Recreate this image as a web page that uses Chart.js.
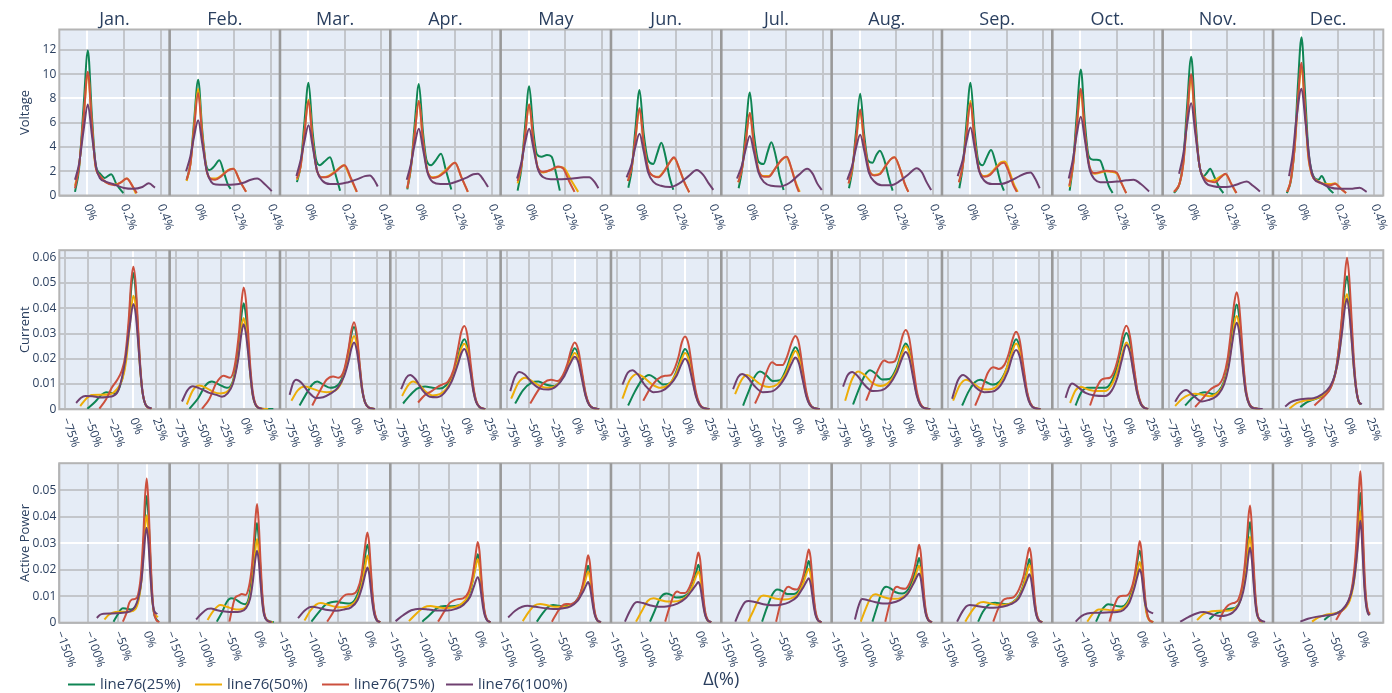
<!DOCTYPE html>
<html>
<head>
<meta charset="utf-8">
<script src="https://cdn.jsdelivr.net/npm/chart.js@4.4.1/dist/chart.umd.min.js"></script>
<style>
  html, body { margin: 0; padding: 0; background: #ffffff; width: 1392px; height: 693px; overflow: hidden; }
  .row { position: absolute; left: 0; width: 1392px; }
  canvas { display: block; }
</style>
</head>
<body>
<div class="row" style="top:0px;height:240px"><canvas id="rowVoltage" width="1392" height="240"></canvas></div>
<div class="row" style="top:240px;height:213px"><canvas id="rowCurrent" width="1392" height="213"></canvas></div>
<div class="row" style="top:453px;height:240px"><canvas id="rowPower" width="1392" height="240"></canvas></div>
<script>
// ---------- categories and labels ----------
const months = ['Jan.', 'Feb.', 'Mar.', 'Apr.', 'May', 'Jun.', 'Jul.', 'Aug.', 'Sep.', 'Oct.', 'Nov.', 'Dec.'];
const seriesNames = ['line76(25%)', 'line76(50%)', 'line76(75%)', 'line76(100%)'];

const voltageXTicks = [0, 0.2, 0.4];
const voltageXLabels = ['0%', '0.2%', '0.4%'];
const voltageYTicks = [0, 2, 4, 6, 8, 10, 12];
const voltageYLabels = ['0', '2', '4', '6', '8', '10', '12'];

const currentXTicks = [-75, -50, -25, 0, 25];
const currentXLabels = ['\u221275%', '\u221250%', '\u221225%', '0%', '25%'];
const currentYTicks = [0, 0.01, 0.02, 0.03, 0.04, 0.05, 0.06];
const currentYLabels = ['0', '0.01', '0.02', '0.03', '0.04', '0.05', '0.06'];

const powerXTicks = [-150, -100, -50, 0];
const powerXLabels = ['\u2212150%', '\u2212100%', '\u221250%', '0%'];
const powerYTicks = [0, 0.01, 0.02, 0.03, 0.04, 0.05];
const powerYLabels = ['0', '0.01', '0.02', '0.03', '0.04', '0.05'];

// ---------- density curves: [deviation %, density] per month ----------
const voltageG = [
  [[-0.067,0.3],[-0.045,2.2],[-0.02,7.4],[0.003,11.95],[0.025,6.6],[0.045,2.6],[0.07,1.8],[0.095,1.45],[0.13,1.75],[0.16,0.9],[0.196,0.2]],
  [[-0.06,1.25],[-0.04,2.6],[-0.02,6.0],[0.003,9.55],[0.025,5.4],[0.045,2.6],[0.065,2.1],[0.09,2.4],[0.118,2.9],[0.145,1.8],[0.165,0.9],[0.18,0.55]],
  [[-0.06,1.1],[-0.04,2.5],[-0.02,5.9],[0.003,9.3],[0.025,5.3],[0.045,2.9],[0.065,2.5],[0.09,2.8],[0.12,3.15],[0.145,2.0],[0.175,0.4]],
  [[-0.06,0.5],[-0.04,2.3],[-0.02,5.8],[0.003,9.2],[0.025,5.3],[0.045,2.9],[0.07,2.5],[0.095,2.9],[0.124,3.45],[0.15,2.1],[0.18,0.5]],
  [[-0.06,0.4],[-0.04,2.2],[-0.02,5.6],[0.003,9.0],[0.025,5.4],[0.045,3.4],[0.07,3.2],[0.1,3.35],[0.125,3.2],[0.15,1.8],[0.17,0.4]],
  [[-0.058,0.64],[-0.04,2.1],[-0.02,5.4],[0.003,8.7],[0.025,5.2],[0.05,2.9],[0.078,2.6],[0.1,3.5],[0.122,4.36],[0.145,3.2],[0.165,1.6],[0.187,0.47]],
  [[-0.058,0.6],[-0.04,2.1],[-0.02,5.3],[0.003,8.5],[0.025,5.1],[0.05,2.8],[0.078,2.6],[0.1,3.6],[0.12,4.4],[0.145,3.2],[0.165,1.6],[0.187,0.45]],
  [[-0.058,0.6],[-0.04,2.1],[-0.02,5.2],[0.003,8.4],[0.025,5.0],[0.045,2.9],[0.07,2.7],[0.09,3.3],[0.11,3.7],[0.135,2.9],[0.16,1.4],[0.18,0.4]],
  [[-0.058,0.6],[-0.04,2.3],[-0.02,5.8],[0.003,9.3],[0.025,5.4],[0.045,2.9],[0.07,2.5],[0.09,3.1],[0.115,3.75],[0.14,2.7],[0.165,1.2],[0.185,0.4]],
  [[-0.058,0.4],[-0.04,2.5],[-0.02,6.5],[0.003,10.4],[0.025,6.0],[0.045,3.3],[0.07,2.95],[0.09,2.95],[0.107,2.9],[0.13,2.0],[0.155,0.8],[0.176,0.2]],
  [[-0.09,0.2],[-0.06,1.0],[-0.04,2.9],[-0.02,7.2],[0.003,11.45],[0.025,6.6],[0.045,2.8],[0.07,1.6],[0.09,1.9],[0.106,2.2],[0.13,1.5],[0.155,0.7],[0.178,0.2]],
  [[-0.077,0.2],[-0.055,1.2],[-0.035,4.0],[-0.017,9.0],[0.003,13.05],[0.022,8.5],[0.04,3.8],[0.06,1.9],[0.077,1.4],[0.095,1.3],[0.113,1.6],[0.135,1.0],[0.155,0.5],[0.177,0.2]]
];
const voltageY = [
  [[-0.067,0.8],[-0.045,2.4],[-0.02,6.4],[0.003,10.0],[0.025,5.8],[0.045,2.4],[0.07,1.6],[0.1,1.1],[0.15,0.9],[0.185,1.1],[0.215,1.4],[0.245,0.8],[0.265,0.15]],
  [[-0.06,1.2],[-0.04,2.5],[-0.02,5.6],[0.003,8.8],[0.025,5.0],[0.05,2.0],[0.075,1.4],[0.1,1.4],[0.13,1.65],[0.165,2.1],[0.195,2.2],[0.23,1.2],[0.264,0.3]],
  [[-0.06,1.3],[-0.04,2.4],[-0.02,5.1],[0.003,7.9],[0.025,4.6],[0.05,2.0],[0.08,1.5],[0.11,1.6],[0.15,2.0],[0.195,2.5],[0.23,1.5],[0.265,0.3]],
  [[-0.06,0.6],[-0.04,2.4],[-0.02,5.1],[0.003,7.8],[0.025,4.6],[0.05,2.0],[0.08,1.5],[0.11,1.6],[0.15,2.1],[0.2,2.7],[0.235,1.5],[0.27,0.3]],
  [[-0.06,1.0],[-0.04,2.4],[-0.02,4.9],[0.003,7.5],[0.025,4.6],[0.05,2.3],[0.08,1.9],[0.12,2.1],[0.16,2.35],[0.19,2.3],[0.23,1.3],[0.27,0.3]],
  [[-0.06,1.2],[-0.04,2.3],[-0.02,4.6],[0.003,7.1],[0.025,4.4],[0.05,2.2],[0.08,1.6],[0.106,1.55],[0.14,2.1],[0.17,2.8],[0.191,3.1],[0.22,2.2],[0.25,1.0],[0.274,0.27]],
  [[-0.06,1.1],[-0.04,2.2],[-0.02,4.4],[0.003,6.8],[0.025,4.2],[0.05,2.1],[0.08,1.6],[0.106,1.6],[0.14,2.2],[0.175,2.9],[0.2,3.2],[0.23,2.2],[0.255,1.0],[0.275,0.3]],
  [[-0.06,1.0],[-0.04,2.2],[-0.02,4.5],[0.003,6.9],[0.025,4.3],[0.05,2.2],[0.08,1.7],[0.11,1.8],[0.14,2.4],[0.17,3.0],[0.19,3.15],[0.22,2.2],[0.245,1.0],[0.265,0.3]],
  [[-0.06,1.1],[-0.04,2.4],[-0.02,5.0],[0.003,7.8],[0.025,4.6],[0.05,2.1],[0.08,1.6],[0.11,1.8],[0.14,2.3],[0.17,2.75],[0.19,2.8],[0.215,2.0],[0.24,0.9],[0.26,0.3]],
  [[-0.06,0.7],[-0.04,2.4],[-0.02,5.5],[0.003,8.5],[0.025,5.0],[0.05,2.4],[0.08,1.8],[0.11,1.9],[0.14,2.0],[0.17,1.95],[0.2,1.8],[0.225,1.0],[0.25,0.2]],
  [[-0.09,0.3],[-0.06,1.0],[-0.04,2.6],[-0.02,6.1],[0.003,9.6],[0.025,5.6],[0.05,2.3],[0.08,1.4],[0.11,1.2],[0.135,1.3],[0.165,1.6],[0.19,1.75],[0.22,1.0],[0.248,0.2]],
  [[-0.075,0.3],[-0.055,1.3],[-0.035,3.8],[-0.017,7.6],[0.003,10.6],[0.022,7.0],[0.04,3.2],[0.06,1.7],[0.086,1.25],[0.12,1.0],[0.16,0.95],[0.186,1.0],[0.215,0.6],[0.246,0.2]]
];
const voltageR = [
  [[-0.067,0.6],[-0.045,2.4],[-0.02,6.5],[0.003,10.2],[0.025,5.9],[0.045,2.4],[0.07,1.6],[0.1,1.1],[0.15,0.85],[0.185,1.1],[0.215,1.4],[0.245,0.8],[0.27,0.2]],
  [[-0.06,1.3],[-0.04,2.5],[-0.02,5.4],[0.003,8.45],[0.025,4.9],[0.05,2.0],[0.075,1.35],[0.095,1.3],[0.13,1.6],[0.165,2.05],[0.195,2.2],[0.23,1.2],[0.264,0.3]],
  [[-0.06,1.4],[-0.04,2.4],[-0.02,5.0],[0.003,7.8],[0.025,4.5],[0.05,2.0],[0.08,1.5],[0.11,1.55],[0.15,1.95],[0.2,2.5],[0.235,1.4],[0.267,0.3]],
  [[-0.06,0.6],[-0.04,2.4],[-0.02,5.0],[0.003,7.8],[0.025,4.6],[0.05,2.0],[0.08,1.45],[0.11,1.55],[0.15,2.0],[0.2,2.7],[0.235,1.5],[0.27,0.3]],
  [[-0.06,1.2],[-0.04,2.4],[-0.02,4.9],[0.003,7.5],[0.025,4.6],[0.05,2.3],[0.08,1.95],[0.12,2.1],[0.16,2.4],[0.19,2.2],[0.22,1.2],[0.25,0.3]],
  [[-0.06,1.2],[-0.04,2.3],[-0.02,4.7],[0.003,7.2],[0.025,4.4],[0.05,2.2],[0.08,1.6],[0.106,1.5],[0.14,2.05],[0.17,2.8],[0.191,3.15],[0.22,2.2],[0.25,1.0],[0.274,0.27]],
  [[-0.06,1.1],[-0.04,2.2],[-0.02,4.4],[0.003,6.8],[0.025,4.2],[0.05,2.1],[0.08,1.55],[0.106,1.55],[0.14,2.2],[0.175,2.95],[0.205,3.2],[0.23,2.2],[0.255,0.9],[0.27,0.3]],
  [[-0.06,1.0],[-0.04,2.3],[-0.02,4.6],[0.003,7.1],[0.025,4.4],[0.05,2.2],[0.08,1.65],[0.11,1.75],[0.14,2.4],[0.17,3.0],[0.19,3.15],[0.22,2.2],[0.245,1.0],[0.265,0.3]],
  [[-0.06,1.1],[-0.04,2.4],[-0.02,4.9],[0.003,7.6],[0.025,4.5],[0.05,2.1],[0.08,1.55],[0.11,1.7],[0.14,2.2],[0.17,2.65],[0.185,2.7],[0.21,2.0],[0.235,0.9],[0.255,0.3]],
  [[-0.06,0.8],[-0.04,2.5],[-0.02,5.7],[0.003,8.8],[0.025,5.2],[0.05,2.4],[0.08,1.85],[0.11,1.95],[0.14,2.05],[0.17,2.0],[0.198,1.9],[0.225,1.0],[0.25,0.2]],
  [[-0.09,0.3],[-0.06,1.0],[-0.04,2.6],[-0.02,6.3],[0.003,10.0],[0.025,5.8],[0.05,2.3],[0.08,1.35],[0.11,1.15],[0.133,1.1],[0.165,1.5],[0.19,1.8],[0.22,1.0],[0.25,0.2]],
  [[-0.075,0.3],[-0.055,1.3],[-0.035,3.9],[-0.017,7.8],[0.003,10.95],[0.022,7.2],[0.04,3.3],[0.06,1.7],[0.086,1.2],[0.12,0.95],[0.16,0.85],[0.186,0.97],[0.215,0.6],[0.246,0.2]]
];
const voltageP = [
  [[-0.067,1.3],[-0.045,2.6],[-0.02,5.4],[0.003,7.5],[0.025,5.0],[0.05,2.2],[0.07,1.4],[0.1,1.15],[0.14,0.95],[0.2,0.62],[0.25,0.55],[0.3,0.7],[0.335,1.0],[0.369,0.65]],
  [[-0.063,2.0],[-0.04,3.2],[-0.02,4.8],[0.003,6.2],[0.025,4.3],[0.05,2.0],[0.075,1.1],[0.1,0.9],[0.15,0.88],[0.2,0.9],[0.25,1.05],[0.29,1.3],[0.325,1.4],[0.365,0.95],[0.404,0.36]],
  [[-0.063,1.6],[-0.04,2.9],[-0.02,4.4],[0.003,5.8],[0.025,4.1],[0.05,2.0],[0.08,1.2],[0.12,0.95],[0.17,0.95],[0.22,1.1],[0.27,1.35],[0.31,1.6],[0.338,1.65],[0.36,1.3],[0.38,0.75]],
  [[-0.063,1.3],[-0.04,2.6],[-0.02,4.2],[0.003,5.5],[0.025,3.9],[0.05,1.9],[0.08,1.1],[0.12,0.95],[0.16,0.95],[0.21,1.15],[0.26,1.45],[0.3,1.75],[0.325,1.8],[0.355,1.3],[0.38,0.7]],
  [[-0.063,1.4],[-0.04,2.7],[-0.02,4.3],[0.003,5.5],[0.025,4.0],[0.05,2.2],[0.08,1.5],[0.12,1.35],[0.18,1.35],[0.24,1.4],[0.3,1.5],[0.33,1.5],[0.36,1.1],[0.38,0.6]],
  [[-0.067,1.5],[-0.04,2.6],[-0.02,4.0],[0.003,5.1],[0.025,3.7],[0.05,1.9],[0.08,1.1],[0.12,0.8],[0.17,0.7],[0.22,1.0],[0.27,1.6],[0.315,2.1],[0.35,1.7],[0.38,1.0],[0.405,0.47]],
  [[-0.067,1.4],[-0.04,2.5],[-0.02,3.8],[0.003,4.9],[0.025,3.6],[0.05,1.9],[0.08,1.1],[0.12,0.8],[0.17,0.75],[0.22,1.05],[0.27,1.7],[0.315,2.2],[0.345,1.8],[0.37,1.0],[0.395,0.45]],
  [[-0.067,1.3],[-0.04,2.5],[-0.02,3.9],[0.003,5.0],[0.025,3.7],[0.05,1.9],[0.08,1.15],[0.12,0.85],[0.17,0.85],[0.22,1.2],[0.27,1.8],[0.31,2.25],[0.34,1.9],[0.365,1.1],[0.39,0.45]],
  [[-0.067,1.6],[-0.04,2.9],[-0.02,4.4],[0.003,5.6],[0.025,4.0],[0.05,2.0],[0.08,1.2],[0.12,0.95],[0.17,0.95],[0.22,1.2],[0.27,1.6],[0.31,1.85],[0.33,1.9],[0.355,1.4],[0.38,0.6]],
  [[-0.063,1.4],[-0.04,3.0],[-0.02,5.0],[0.003,6.5],[0.025,4.6],[0.05,2.2],[0.08,1.3],[0.108,1.1],[0.15,1.1],[0.2,1.15],[0.25,1.25],[0.29,1.3],[0.33,0.95],[0.375,0.33]],
  [[-0.063,1.8],[-0.04,3.4],[-0.02,5.8],[0.003,7.6],[0.025,5.2],[0.05,2.3],[0.08,1.1],[0.124,0.77],[0.17,0.7],[0.21,0.72],[0.26,0.95],[0.306,1.16],[0.34,0.8],[0.378,0.33]],
  [[-0.065,1.6],[-0.045,3.4],[-0.025,6.3],[0.003,8.8],[0.025,6.0],[0.05,2.6],[0.075,1.3],[0.1,1.1],[0.15,0.7],[0.213,0.55],[0.27,0.55],[0.32,0.64],[0.358,0.3]]
];

const currentG = [
  [[-50.7,0.0002],[-42,0.003],[-35,0.0058],[-30,0.0068],[-24,0.0065],[-20,0.0062],[-15,0.009],[-10,0.016],[-5,0.033],[-2.5,0.047],[0,0.054],[2.5,0.047],[5,0.032],[7.5,0.017],[10,0.007],[14,0.0015],[20,0.0002]],
  [[-59.8,0.0002],[-50,0.0045],[-42,0.0095],[-35,0.011],[-27,0.0098],[-18.6,0.0085],[-12,0.011],[-6,0.024],[-2.5,0.037],[0,0.042],[2.5,0.037],[5,0.026],[7.5,0.014],[10,0.006],[14,0.0013],[20,0.0002],[32.7,0.0001]],
  [[-60,0.0015],[-52,0.0065],[-46,0.0098],[-40.6,0.011],[-34,0.0098],[-26,0.0085],[-18,0.0095],[-11,0.0145],[-6,0.023],[-3,0.0295],[0,0.0326],[3,0.0285],[6,0.018],[9,0.008],[12,0.003],[16,0.0008],[23,0.0001]],
  [[-67.5,0.0023],[-60,0.0055],[-52,0.0082],[-43.3,0.009],[-35,0.0085],[-27,0.0082],[-20,0.0095],[-13,0.0135],[-7,0.0205],[-3.5,0.0255],[0,0.0277],[3.5,0.0245],[7,0.016],[10,0.008],[13,0.0032],[17,0.0008],[23,0.0001]],
  [[-65.6,0.0023],[-57,0.0075],[-48,0.0105],[-40,0.011],[-32,0.0098],[-24,0.0092],[-16,0.011],[-9,0.016],[-4,0.0215],[0,0.0242],[4,0.0215],[8,0.0138],[12,0.006],[16,0.0019],[21,0.0004],[27,0.0001]],
  [[-62.7,0.0015],[-55,0.0072],[-47,0.0118],[-39.5,0.0136],[-32,0.012],[-24,0.0098],[-16,0.0105],[-9,0.0155],[-4,0.021],[0,0.0239],[4,0.0212],[8,0.0135],[12,0.006],[16,0.0019],[21,0.0004],[27,0.0001]],
  [[-57.6,0.0015],[-51,0.0075],[-45,0.0128],[-38.9,0.015],[-32,0.0135],[-25,0.0112],[-17,0.0115],[-10,0.016],[-4,0.022],[0,0.0246],[4,0.022],[8,0.014],[12,0.0062],[16,0.002],[21,0.0004],[27,0.0001]],
  [[-58,0.0019],[-51,0.0085],[-45,0.0135],[-39.2,0.0155],[-33,0.014],[-26,0.0118],[-18,0.012],[-10,0.0165],[-4,0.0232],[0,0.0261],[4,0.0232],[8,0.0148],[12,0.0065],[16,0.002],[21,0.0004],[27,0.0001]],
  [[-59.4,0.0015],[-52,0.0072],[-45,0.0108],[-39.5,0.0117],[-33,0.0108],[-26,0.0098],[-18,0.011],[-10,0.0165],[-4,0.0245],[0,0.0277],[4,0.0246],[8,0.0157],[12,0.0068],[16,0.0021],[21,0.0004],[27,0.0001]],
  [[-56,0.0015],[-50,0.0065],[-43,0.0085],[-35,0.0085],[-28,0.0085],[-23.5,0.0085],[-17,0.0105],[-11,0.016],[-5,0.025],[0,0.0302],[4,0.0265],[8,0.0165],[12,0.0072],[16,0.0022],[20,0.0006],[24,0.0001]],
  [[-56.8,0.0015],[-48,0.0048],[-40,0.0064],[-34.8,0.0068],[-29,0.0063],[-25.6,0.006],[-20,0.0072],[-14,0.011],[-9,0.019],[-5,0.03],[-2.5,0.038],[0,0.0415],[2.5,0.0375],[5,0.0275],[7.5,0.016],[10,0.0075],[14,0.002],[20,0.0004],[26,0.0001]],
  [[-51.6,0.0009],[-44,0.0028],[-36,0.004],[-28,0.005],[-22,0.0065],[-17,0.0095],[-12,0.016],[-8,0.027],[-5,0.038],[-2.5,0.048],[0,0.0527],[2.5,0.046],[5,0.032],[7.5,0.018],[10,0.0085],[12.5,0.0035],[15,0.0018]]
];
const currentY = [
  [[-58.5,0.0013],[-52,0.0042],[-45.8,0.0057],[-36,0.0058],[-25.7,0.006],[-18,0.008],[-12,0.012],[-8,0.019],[-4,0.033],[0,0.045],[2.5,0.041],[5,0.029],[7.5,0.016],[10,0.007],[14,0.0015],[20,0.0002]],
  [[-62.7,0.0019],[-56,0.0075],[-49,0.0094],[-40,0.0082],[-33,0.0068],[-26,0.0063],[-19,0.0068],[-12,0.0105],[-6,0.021],[-2.5,0.032],[0,0.0362],[2.5,0.032],[5,0.023],[7.5,0.013],[10,0.0055],[14,0.0012],[20,0.0002],[27,0.0001]],
  [[-69,0.0034],[-62,0.0075],[-54,0.009],[-46,0.0082],[-38,0.0072],[-30,0.0068],[-22,0.0072],[-14,0.0105],[-7,0.019],[-3,0.026],[0,0.029],[3,0.0255],[6,0.0165],[9,0.0075],[12,0.0028],[16,0.0007],[23,0.0001]],
  [[-68.6,0.0053],[-62,0.0095],[-56.5,0.011],[-50,0.0098],[-42,0.0068],[-35,0.0055],[-27,0.006],[-20,0.008],[-13,0.0125],[-7,0.0195],[-3.5,0.024],[0,0.026],[3.5,0.023],[7,0.015],[10,0.0075],[13,0.003],[17,0.0008],[23,0.0001]],
  [[-70,0.0042],[-62,0.0105],[-54.6,0.0125],[-47,0.0112],[-38,0.0092],[-29,0.0085],[-20,0.0095],[-12,0.0135],[-5,0.019],[0,0.0223],[4,0.0198],[8,0.0128],[12,0.0056],[16,0.0018],[21,0.0004],[27,0.0001]],
  [[-69,0.0042],[-61,0.0115],[-52.7,0.014],[-45,0.0125],[-36,0.0098],[-27,0.0085],[-18,0.0098],[-10,0.014],[-4,0.0196],[0,0.0223],[4,0.0198],[8,0.0126],[12,0.0056],[16,0.0018],[21,0.0004],[27,0.0001]],
  [[-66.4,0.006],[-59,0.0118],[-53.2,0.0136],[-46,0.012],[-38,0.0098],[-29,0.0088],[-20,0.0098],[-11,0.014],[-4,0.0205],[0,0.0231],[4,0.0205],[8,0.013],[12,0.0058],[16,0.0018],[21,0.0004],[27,0.0001]],
  [[-66.7,0.0034],[-59,0.012],[-52.4,0.015],[-45,0.0135],[-37,0.0105],[-28,0.0092],[-19,0.0105],[-10,0.0155],[-4,0.0222],[0,0.025],[4,0.0222],[8,0.0142],[12,0.0062],[16,0.002],[21,0.0004],[27,0.0001]],
  [[-69.3,0.0034],[-62,0.0095],[-55,0.0117],[-48,0.0105],[-40,0.0085],[-31,0.0078],[-22,0.0088],[-13,0.0135],[-5,0.022],[0,0.0261],[4,0.0232],[8,0.0148],[12,0.0064],[16,0.002],[21,0.0004],[27,0.0001]],
  [[-62,0.0025],[-56,0.0075],[-50,0.0088],[-42,0.0078],[-33,0.0072],[-23.5,0.0072],[-17,0.0092],[-11,0.014],[-5,0.0215],[0,0.0265],[4,0.0233],[8,0.0146],[12,0.0064],[16,0.002],[20,0.0005],[24,0.0001]],
  [[-67.8,0.0013],[-60,0.0042],[-52,0.0058],[-45.8,0.0062],[-38,0.0058],[-30,0.0052],[-22,0.0062],[-15,0.0095],[-9,0.0175],[-5,0.027],[-2.5,0.034],[0,0.0369],[2.5,0.0335],[5,0.0245],[7.5,0.0145],[10,0.0068],[14,0.0018],[20,0.0003],[26,0.0001]],
  [[-63.4,0.0003],[-55,0.0025],[-46,0.0035],[-37,0.004],[-28,0.0052],[-20,0.0078],[-14,0.0125],[-9,0.021],[-5,0.033],[-2.5,0.042],[0,0.0457],[2.5,0.04],[5,0.0285],[7.5,0.0165],[10,0.008],[12.5,0.0035],[15,0.002]]
];
const currentR = [
  [[-37.4,0.0003],[-30,0.004],[-23.8,0.0085],[-18,0.0115],[-13,0.015],[-9,0.021],[-5,0.036],[-2.5,0.05],[0,0.0564],[2.5,0.05],[5,0.034],[7.5,0.018],[10,0.0075],[14,0.0015],[20,0.0002]],
  [[-46,0.0002],[-38,0.004],[-30,0.0105],[-22.3,0.0133],[-15,0.0125],[-10,0.017],[-5,0.031],[-2.5,0.042],[0,0.0482],[2.5,0.043],[5,0.03],[7.5,0.016],[10,0.007],[14,0.0015],[21.7,0.0001]],
  [[-46,0.0015],[-38,0.007],[-30,0.0118],[-23,0.013],[-17,0.0125],[-11,0.0155],[-6,0.024],[-3,0.031],[0,0.0345],[3,0.03],[6,0.019],[9,0.0085],[12,0.003],[16,0.0008],[23,0.0001]],
  [[-51,0.0027],[-44,0.0055],[-36,0.0072],[-29,0.009],[-24.5,0.0098],[-18,0.011],[-12,0.0155],[-7,0.024],[-3.5,0.0305],[0,0.033],[3.5,0.029],[7,0.018],[10,0.009],[13,0.0035],[17,0.0009],[23,0.0001]],
  [[-49,0.0023],[-42,0.0065],[-34,0.0105],[-26,0.0117],[-19,0.0112],[-13,0.0135],[-8,0.018],[-4,0.0235],[0,0.0265],[4,0.0235],[8,0.015],[12,0.0065],[16,0.002],[21,0.0004],[27,0.0001]],
  [[-46,0.0034],[-38,0.0085],[-30,0.012],[-22,0.0133],[-16,0.0135],[-11,0.0165],[-7,0.021],[-3.5,0.0265],[0,0.0288],[4,0.0255],[8,0.016],[12,0.007],[16,0.0022],[21,0.0004],[27,0.0001]],
  [[-44.4,0.0023],[-38,0.0075],[-32,0.0145],[-25.7,0.0186],[-20,0.0175],[-14,0.0175],[-9,0.021],[-4,0.0265],[0,0.029],[4,0.026],[8,0.0165],[12,0.0072],[16,0.0022],[21,0.0004],[27,0.0001]],
  [[-43.6,0.0034],[-37,0.0095],[-30,0.016],[-23.8,0.0193],[-18,0.0185],[-12,0.019],[-7,0.024],[-3.5,0.029],[0,0.0314],[4,0.028],[8,0.018],[12,0.0078],[16,0.0024],[21,0.0004],[27,0.0001]],
  [[-45,0.0015],[-38,0.0075],[-31,0.0145],[-25.2,0.0167],[-19,0.016],[-13,0.0175],[-8,0.022],[-4,0.0275],[0,0.0307],[4,0.0275],[8,0.0175],[12,0.0075],[16,0.0023],[21,0.0004],[27,0.0001]],
  [[-40,0.0015],[-34,0.0075],[-28,0.0115],[-23.5,0.0122],[-18,0.0125],[-13,0.0155],[-8,0.022],[-4,0.0295],[0,0.0331],[4,0.029],[8,0.018],[12,0.0078],[16,0.0024],[20,0.0006],[24,0.0001]],
  [[-45.8,0.0009],[-38,0.004],[-30,0.0075],[-24,0.009],[-20,0.0097],[-15,0.0125],[-10,0.02],[-5,0.035],[-2.5,0.0425],[0,0.0463],[2.5,0.042],[5,0.031],[7.5,0.018],[10,0.0085],[14,0.0022],[20,0.0004],[25.8,0.0001]],
  [[-35.9,0.0015],[-30,0.0035],[-24,0.0055],[-18,0.0085],[-13,0.014],[-9,0.024],[-6,0.035],[-3,0.05],[0,0.06],[2.5,0.052],[5,0.036],[7.5,0.02],[10,0.009],[12.5,0.0035],[14.4,0.002]]
];
const currentP = [
  [[-63,0.0025],[-58,0.0045],[-53,0.0053],[-45,0.0052],[-36.7,0.0047],[-28,0.0049],[-22,0.0053],[-16,0.008],[-9.1,0.019],[-4,0.033],[0,0.0417],[2.5,0.038],[5,0.028],[7.5,0.016],[10,0.007],[14,0.0015],[20,0.0004]],
  [[-68,0.0031],[-62,0.0075],[-56,0.0091],[-48,0.0082],[-38,0.0065],[-30,0.0057],[-24,0.005],[-18,0.0062],[-12,0.01],[-6,0.02],[-2.5,0.03],[0,0.0337],[2.5,0.03],[5,0.022],[7.5,0.013],[10,0.0055],[14,0.0012],[20,0.0002]],
  [[-71,0.0057],[-67,0.0105],[-63.7,0.0117],[-58,0.0105],[-50,0.0068],[-41.7,0.0045],[-34,0.0048],[-26,0.0062],[-18,0.0085],[-11,0.013],[-6,0.019],[-3,0.024],[0,0.0265],[3,0.0235],[6,0.016],[9,0.0075],[12,0.0028],[16,0.0007],[23,0.0001]],
  [[-69.7,0.008],[-64,0.0125],[-59.8,0.0136],[-54,0.012],[-46,0.0075],[-38,0.005],[-30,0.0048],[-22,0.0065],[-14,0.011],[-7,0.018],[-3.5,0.022],[0,0.0239],[3.5,0.021],[7,0.014],[10,0.007],[13,0.0028],[17,0.0008],[23,0.0001]],
  [[-71,0.0072],[-66,0.0128],[-61,0.0148],[-55,0.0138],[-47,0.0105],[-38,0.0082],[-29,0.0078],[-20,0.0092],[-12,0.0128],[-5,0.018],[0,0.0208],[4,0.0186],[8,0.012],[12,0.0053],[16,0.0017],[21,0.0004],[27,0.0001]],
  [[-69,0.0098],[-63,0.0145],[-58,0.0155],[-52,0.0138],[-44,0.0095],[-35,0.0068],[-26,0.0072],[-17,0.0095],[-9,0.0135],[-4,0.0178],[0,0.02],[4,0.0178],[8,0.0115],[12,0.0052],[16,0.0017],[21,0.0004],[27,0.0001]],
  [[-68.6,0.008],[-63,0.0128],[-58.7,0.014],[-53,0.0128],[-45,0.0092],[-36,0.0068],[-27,0.007],[-18,0.0092],[-10,0.0135],[-4,0.0182],[0,0.0205],[4,0.0182],[8,0.0118],[12,0.0052],[16,0.0017],[21,0.0004],[27,0.0001]],
  [[-69,0.009],[-64,0.0135],[-59,0.0148],[-53,0.0132],[-45,0.0095],[-36,0.0072],[-27,0.0075],[-18,0.0098],[-10,0.0145],[-4,0.0202],[0,0.0227],[4,0.0202],[8,0.013],[12,0.0057],[16,0.0018],[21,0.0004],[27,0.0001]],
  [[-70.4,0.0042],[-64,0.0115],[-58.3,0.0136],[-52,0.012],[-44,0.0085],[-35,0.0068],[-26,0.007],[-17,0.0095],[-9,0.015],[-4,0.021],[0,0.0235],[4,0.021],[8,0.0134],[12,0.0058],[16,0.0018],[21,0.0004],[27,0.0001]],
  [[-67,0.0045],[-63,0.0088],[-59.8,0.0102],[-54,0.009],[-45,0.0065],[-35,0.0055],[-23.5,0.0053],[-16,0.0075],[-10,0.0125],[-5,0.0195],[0,0.0255],[4,0.0225],[8,0.0142],[12,0.0062],[16,0.002],[20,0.0005],[24,0.0001]],
  [[-67.8,0.003],[-62,0.0062],[-55.7,0.0076],[-48,0.0055],[-38.4,0.0031],[-30,0.0038],[-25.6,0.0044],[-20,0.006],[-14,0.0098],[-9,0.0165],[-5,0.026],[-2.5,0.0315],[0,0.0343],[2.5,0.0312],[5,0.023],[7.5,0.0138],[10,0.0066],[14,0.0018],[20,0.0003],[28.7,0.0001]],
  [[-68.2,0.0011],[-62,0.0028],[-55.3,0.0037],[-46,0.0042],[-37,0.0044],[-28,0.0058],[-18.6,0.0091],[-13,0.014],[-9,0.021],[-5,0.032],[-2.5,0.04],[0,0.0438],[2.5,0.0385],[5,0.028],[7.5,0.0165],[10,0.008],[13,0.003],[16.3,0.002]]
];

const powerG = [
  [[-57,0.0004],[-50,0.003],[-45,0.0048],[-41,0.0055],[-35,0.0053],[-28,0.005],[-22,0.0055],[-16,0.0075],[-11,0.013],[-6,0.027],[-3,0.041],[0,0.0478],[3,0.04],[6,0.025],[9,0.0115],[12,0.0042],[16,0.0015],[20,0.0004]],
  [[-69,0.0004],[-60,0.004],[-52,0.0078],[-44.5,0.0092],[-37,0.0088],[-28,0.0075],[-20.5,0.007],[-14,0.0095],[-9,0.017],[-5,0.027],[-2.5,0.034],[0,0.0376],[3,0.031],[6,0.0195],[9,0.0095],[12,0.0037],[17,0.001],[29,0.0002]],
  [[-96,0.0004],[-85,0.0035],[-72,0.0068],[-60,0.0078],[-53,0.008],[-44,0.0075],[-33,0.0072],[-22,0.0085],[-13,0.0135],[-6,0.022],[0,0.0294],[3,0.026],[6,0.0175],[9,0.0092],[12,0.004],[16,0.0011],[22,0.0002]],
  [[-95,0.0004],[-82,0.003],[-70,0.0055],[-56,0.0063],[-45,0.0062],[-34,0.0065],[-22,0.0078],[-12,0.0125],[-5,0.02],[0,0.0258],[3,0.0228],[6,0.0155],[9,0.0082],[12,0.0035],[16,0.001],[22,0.0002]],
  [[-88,0.0004],[-78,0.0035],[-68,0.006],[-60,0.0067],[-50,0.0064],[-40,0.0062],[-28,0.0068],[-17,0.0092],[-8,0.0145],[-3,0.0188],[0,0.0215],[3,0.0192],[6,0.0132],[9,0.007],[12,0.003],[16,0.0009],[22,0.0002]],
  [[-83,0.0004],[-75,0.0045],[-65,0.0095],[-55,0.011],[-47,0.0105],[-38,0.0095],[-27,0.0098],[-16,0.0115],[-8,0.0158],[-3,0.0198],[0,0.0219],[3,0.0195],[6,0.0135],[9,0.0072],[12,0.0031],[16,0.0009],[22,0.0002]],
  [[-80,0.0004],[-72,0.0055],[-62,0.0108],[-54,0.0125],[-46,0.012],[-37,0.0108],[-26,0.0108],[-16,0.0125],[-8,0.0168],[-3,0.021],[0,0.0233],[3,0.0208],[6,0.0143],[9,0.0076],[12,0.0033],[16,0.001],[22,0.0002]],
  [[-80,0.0004],[-72,0.006],[-63,0.0122],[-56.5,0.0136],[-49,0.013],[-40,0.0115],[-29,0.011],[-18,0.0128],[-9,0.0175],[-3,0.022],[0,0.0244],[3,0.0218],[6,0.015],[9,0.008],[12,0.0034],[16,0.001],[22,0.0002]],
  [[-88,0.0004],[-80,0.004],[-70,0.0068],[-59,0.0075],[-49,0.0072],[-39,0.007],[-28,0.0078],[-17,0.0105],[-8,0.016],[-3,0.0212],[0,0.024],[3,0.0214],[6,0.0148],[9,0.0079],[12,0.0034],[16,0.001],[22,0.0002]],
  [[-75,0.0004],[-66,0.0045],[-58,0.0066],[-54,0.007],[-45,0.0066],[-37,0.0062],[-30.8,0.0061],[-22,0.0075],[-14,0.0115],[-7,0.019],[-3,0.0245],[0,0.0272],[3,0.024],[6,0.0165],[9,0.0088],[12,0.0038],[16,0.0011],[23,0.0002]],
  [[-69.7,0.0013],[-60,0.0032],[-50,0.0042],[-40,0.005],[-31,0.0054],[-24,0.0058],[-17,0.0085],[-11,0.015],[-6,0.025],[-3,0.0335],[0,0.038],[3,0.0315],[6,0.0195],[9,0.0095],[12,0.0037],[16,0.001],[22,0.0003]],
  [[-62,0.001],[-52,0.0028],[-42,0.0035],[-33,0.0045],[-25,0.0062],[-18,0.0092],[-12,0.0155],[-7,0.026],[-4,0.037],[-2,0.0445],[0,0.049],[2,0.043],[4.5,0.029],[7,0.016],[10,0.0075],[13,0.004],[16,0.003]]
];
const powerY = [
  [[-72.6,0.0012],[-65,0.003],[-54,0.004],[-42,0.0041],[-28.6,0.0042],[-20,0.005],[-14,0.0085],[-9,0.016],[-5,0.028],[-2.5,0.037],[0,0.0406],[3,0.034],[6,0.021],[9,0.0098],[12,0.0045],[19,0.002]],
  [[-85,0.001],[-75,0.0045],[-63,0.0067],[-52,0.006],[-40.6,0.0052],[-30,0.005],[-20,0.0058],[-13,0.009],[-8,0.016],[-4,0.025],[0,0.0316],[3,0.0265],[6,0.0168],[9,0.0082],[12,0.0033],[17,0.0009],[27,0.0002]],
  [[-108,0.0008],[-98,0.0045],[-88,0.0068],[-80,0.0074],[-68,0.0068],[-55,0.006],[-42,0.0058],[-30,0.0065],[-18,0.009],[-9,0.015],[-4,0.021],[0,0.0254],[3,0.0225],[6,0.0152],[9,0.008],[12,0.0035],[16,0.001],[22,0.0002]],
  [[-118,0.0006],[-105,0.0035],[-92,0.0058],[-81,0.0063],[-68,0.0058],[-55,0.0055],[-42,0.0058],[-30,0.0068],[-18,0.0095],[-9,0.0155],[-4,0.0205],[0,0.024],[3,0.0212],[6,0.0145],[9,0.0077],[12,0.0033],[16,0.001],[22,0.0002]],
  [[-112,0.0006],[-102,0.004],[-92,0.0065],[-82,0.0071],[-70,0.0066],[-57,0.006],[-43,0.006],[-30,0.0065],[-18,0.0085],[-9,0.0128],[-4,0.0165],[0,0.0193],[3,0.0172],[6,0.012],[9,0.0064],[12,0.0028],[16,0.0008],[22,0.0002]],
  [[-107,0.0004],[-98,0.004],[-87,0.0082],[-77,0.0092],[-66,0.0086],[-54,0.008],[-42,0.008],[-30,0.0085],[-18,0.0105],[-9,0.0145],[-4,0.0175],[0,0.0193],[3,0.0172],[6,0.012],[9,0.0064],[12,0.0028],[16,0.0008],[22,0.0002]],
  [[-104,0.0004],[-95,0.0045],[-85,0.0092],[-78,0.0103],[-67,0.0098],[-55,0.009],[-42,0.0088],[-30,0.0092],[-18,0.011],[-9,0.0152],[-4,0.0185],[0,0.0204],[3,0.0182],[6,0.0127],[9,0.0068],[12,0.003],[16,0.0009],[22,0.0002]],
  [[-100,0.0004],[-92,0.005],[-82,0.0098],[-75,0.0107],[-65,0.01],[-54,0.0092],[-42,0.009],[-30,0.0095],[-18,0.0115],[-9,0.0158],[-4,0.0193],[0,0.0215],[3,0.0192],[6,0.0134],[9,0.0071],[12,0.0031],[16,0.0009],[22,0.0002]],
  [[-110,0.0004],[-100,0.004],[-88,0.0072],[-79,0.0078],[-68,0.0073],[-56,0.0068],[-43,0.0068],[-30,0.0075],[-18,0.0098],[-9,0.0148],[-4,0.019],[0,0.0219],[3,0.0195],[6,0.0135],[9,0.0072],[12,0.0031],[16,0.0009],[22,0.0002]],
  [[-90,0.0004],[-80,0.0035],[-70,0.005],[-60,0.005],[-50,0.0047],[-40,0.0046],[-30,0.0052],[-20,0.0075],[-12,0.012],[-6,0.0175],[-2.5,0.021],[0,0.0229],[3,0.0203],[6,0.014],[9,0.0075],[12,0.0033],[16,0.001],[23,0.0003]],
  [[-91,0.001],[-80,0.0032],[-65.6,0.0043],[-52,0.0045],[-40,0.0045],[-28,0.005],[-19,0.0072],[-12,0.0128],[-6,0.0215],[-3,0.0285],[0,0.0324],[3,0.027],[6,0.0168],[9,0.0083],[12,0.0033],[16,0.001],[22,0.0003]],
  [[-83,0.0004],[-72,0.002],[-57.5,0.0031],[-45,0.0035],[-34,0.0042],[-25,0.0058],[-18,0.0085],[-12,0.014],[-7,0.023],[-4,0.032],[-2,0.038],[0,0.0422],[2,0.037],[4.5,0.025],[7,0.014],[10,0.0068],[13,0.0038],[16,0.003]]
];
const powerR = [
  [[-41,0.0004],[-35,0.0035],[-30,0.0075],[-25,0.0088],[-20,0.009],[-15,0.0105],[-10,0.018],[-6,0.032],[-3,0.047],[0,0.0544],[3,0.045],[6,0.028],[9,0.013],[12,0.0045],[16,0.0012],[21.6,0.0002]],
  [[-47.4,0.0004],[-43,0.005],[-37.7,0.0094],[-32,0.0102],[-26,0.0108],[-20,0.0105],[-14,0.0135],[-9,0.021],[-5,0.032],[-2.5,0.04],[0,0.0448],[3,0.037],[6,0.023],[9,0.011],[12,0.0042],[17,0.001],[25,0.0002]],
  [[-69,0.0004],[-60,0.0035],[-50,0.0075],[-40,0.0102],[-33,0.0107],[-25,0.0108],[-17,0.0125],[-10,0.018],[-5,0.027],[0,0.034],[3,0.03],[6,0.02],[9,0.0105],[12,0.0045],[16,0.0012],[22,0.0002]],
  [[-68,0.0004],[-58,0.004],[-48,0.0075],[-40,0.0085],[-34,0.0089],[-25,0.0092],[-16,0.0115],[-9,0.0175],[-4,0.025],[0,0.0305],[3,0.027],[6,0.018],[9,0.0095],[12,0.004],[16,0.0011],[22,0.0002]],
  [[-62,0.0004],[-54,0.0035],[-45,0.0063],[-37.7,0.0071],[-30,0.007],[-22,0.0078],[-14,0.0105],[-8,0.0155],[-3,0.022],[0,0.0255],[3,0.0228],[6,0.0155],[9,0.0082],[12,0.0035],[16,0.001],[22,0.0002]],
  [[-57,0.0004],[-50,0.0055],[-42,0.0105],[-36.5,0.0118],[-30,0.0112],[-23,0.0112],[-15,0.0135],[-8,0.018],[-3,0.0238],[0,0.0265],[3,0.0238],[6,0.0165],[9,0.0088],[12,0.0038],[16,0.0011],[22,0.0002]],
  [[-56,0.0004],[-48,0.0075],[-40,0.0125],[-35,0.0136],[-28,0.0128],[-21,0.0125],[-14,0.0145],[-8,0.019],[-3,0.0248],[0,0.0276],[3,0.0248],[6,0.0172],[9,0.0092],[12,0.004],[16,0.0011],[22,0.0002]],
  [[-58,0.0004],[-50,0.0075],[-43,0.0125],[-37.7,0.0136],[-31,0.013],[-24,0.0128],[-16,0.015],[-9,0.0195],[-3,0.026],[0,0.0294],[3,0.0262],[6,0.018],[9,0.0096],[12,0.0041],[16,0.0012],[22,0.0002]],
  [[-62,0.0004],[-54,0.005],[-45,0.0085],[-38,0.0092],[-33,0.0093],[-26,0.0098],[-18,0.0125],[-10,0.0175],[-4,0.0245],[0,0.0283],[3,0.0252],[6,0.0174],[9,0.0093],[12,0.004],[16,0.0011],[22,0.0002]],
  [[-52,0.0004],[-45,0.0055],[-38,0.0092],[-33.7,0.01],[-28,0.0102],[-22,0.0103],[-15,0.0125],[-9,0.0175],[-4,0.025],[0,0.0308],[3,0.0272],[6,0.0185],[9,0.01],[12,0.0043],[16,0.0012],[23,0.0002]],
  [[-52.5,0.001],[-45,0.0045],[-38,0.0065],[-31,0.0073],[-25.7,0.0076],[-20,0.0088],[-14,0.0135],[-9,0.022],[-5,0.033],[-2.5,0.0405],[0,0.0442],[3,0.0365],[6,0.0225],[9,0.011],[12,0.0042],[16,0.001],[18.8,0.0004]],
  [[-41.6,0.001],[-35,0.0035],[-28,0.0055],[-22,0.0075],[-16,0.0115],[-11,0.019],[-7,0.03],[-4,0.043],[-2,0.052],[0,0.0572],[2,0.05],[4.5,0.034],[7,0.019],[10,0.0085],[13,0.0045],[16.6,0.0034]]
];
const powerP = [
  [[-85.6,0.0018],[-80,0.003],[-74,0.0034],[-60,0.0035],[-45,0.0037],[-28.6,0.0043],[-20,0.006],[-14.4,0.0094],[-9,0.016],[-5,0.026],[-2.5,0.033],[0,0.0358],[3,0.03],[6,0.019],[9,0.0095],[12,0.005],[18,0.0032]],
  [[-104.5,0.0012],[-95,0.0035],[-85,0.0052],[-79,0.0054],[-70,0.0048],[-55,0.0042],[-40.6,0.004],[-28,0.0042],[-19,0.0055],[-12,0.009],[-7,0.016],[-3.5,0.023],[0,0.0272],[3,0.023],[6,0.0148],[9,0.0074],[12,0.003],[17,0.0008],[25,0.0002]],
  [[-119,0.0017],[-108,0.0045],[-100,0.0058],[-94,0.006],[-82,0.0055],[-68,0.0048],[-54,0.0045],[-40,0.005],[-28,0.0058],[-17,0.0085],[-9,0.0135],[-4,0.018],[0,0.0208],[3,0.0185],[6,0.0125],[9,0.0068],[12,0.003],[16,0.0009],[22,0.0002]],
  [[-141,0.0006],[-128,0.0028],[-114,0.0047],[-99,0.0053],[-84,0.005],[-68,0.0046],[-52,0.0046],[-38,0.0052],[-24,0.0068],[-13,0.0098],[-6,0.014],[0,0.0172],[3,0.0155],[6,0.0108],[9,0.006],[12,0.0028],[16,0.0009],[22,0.0002]],
  [[-137,0.002],[-125,0.0045],[-113,0.006],[-104,0.0064],[-90,0.006],[-75,0.0055],[-60,0.0052],[-45,0.0054],[-30,0.0062],[-18,0.0082],[-9,0.0115],[-4,0.0138],[0,0.0154],[3,0.0138],[6,0.0098],[9,0.0055],[12,0.0025],[16,0.0008],[22,0.0002]],
  [[-126,0.0004],[-118,0.0042],[-110,0.0072],[-105,0.0078],[-95,0.0074],[-82,0.0065],[-68,0.006],[-52,0.0062],[-36,0.0072],[-22,0.0092],[-10,0.0125],[-4,0.0143],[0,0.0154],[3,0.0138],[6,0.0098],[9,0.0055],[12,0.0025],[16,0.0008],[22,0.0002]],
  [[-126,0.0004],[-118,0.0045],[-109,0.0078],[-103,0.0082],[-92,0.0078],[-78,0.007],[-63,0.0066],[-48,0.0068],[-33,0.0078],[-20,0.0098],[-9,0.0135],[-4,0.0155],[0,0.0168],[3,0.015],[6,0.0106],[9,0.0058],[12,0.0026],[16,0.0008],[22,0.0002]],
  [[-110,0.0012],[-105,0.0055],[-100,0.0085],[-97.6,0.0089],[-88,0.0085],[-76,0.0078],[-62,0.0072],[-48,0.0074],[-33,0.0085],[-20,0.0108],[-9,0.015],[-4,0.0172],[0,0.0186],[3,0.0166],[6,0.0117],[9,0.0063],[12,0.0028],[16,0.0009],[22,0.0002]],
  [[-124,0.0004],[-116,0.0038],[-108,0.0062],[-102,0.0067],[-90,0.0063],[-76,0.0058],[-62,0.0056],[-47,0.006],[-32,0.007],[-19,0.009],[-9,0.0135],[-4,0.0163],[0,0.0183],[3,0.0163],[6,0.0115],[9,0.0062],[12,0.0027],[16,0.0008],[22,0.0002]],
  [[-110,0.0004],[-100,0.0025],[-90,0.0035],[-78,0.0038],[-65,0.0038],[-52,0.0039],[-39,0.004],[-28,0.0048],[-18,0.0075],[-10,0.0125],[-4,0.0175],[0,0.0202],[3,0.0182],[6,0.0128],[9,0.0075],[12,0.0052],[16,0.0042],[23,0.0035]],
  [[-120,0.0004],[-105,0.0022],[-92,0.0035],[-80,0.004],[-66,0.0032],[-51,0.0025],[-40,0.0028],[-30,0.0038],[-20,0.0065],[-12,0.0115],[-6,0.019],[-3,0.0248],[0,0.0284],[3,0.024],[6,0.015],[9,0.0075],[12,0.003],[18,0.001],[25.7,0.0003]],
  [[-103,0.0004],[-90,0.0015],[-76,0.0022],[-60,0.0027],[-46,0.0031],[-33,0.0045],[-20.5,0.0082],[-13,0.0135],[-8,0.021],[-4,0.03],[-2,0.0355],[0,0.0385],[2,0.034],[4.5,0.023],[7,0.013],[10,0.0062],[13,0.0035],[15.4,0.0028]]
];

// ---------- styling ----------
const FONT = '"Open Sans", verdana, arial, sans-serif';
const TEXT = '#2a3f5f';
const BG = '#e5ecf6';
const GRID = '#c3c6cb';
const EDGE = '#999999';
const OUTER = '#b4b4b4';
const COLORS = ['rgb(15,133,84)', 'rgb(237,173,8)', 'rgb(204,80,62)', 'rgb(111,64,112)'];
const Y_AXIS_WIDTH = 59.3;
const RIGHT_PAD = 8.7;
const LABEL_ANGLE = 70 * Math.PI / 180;

const rows = {
  rowVoltage: {
    title: 'Voltage', series: [voltageG, voltageY, voltageR, voltageP],
    xMin: -0.1526, xMax: 0.4487, xTicks: voltageXTicks, xLabels: voltageXLabels,
    yMax: 13.69, yTicks: voltageYTicks, yLabels: voltageYLabels, yWhite: 8,
    pad: { top: 29.5, bottom: 44.5 }, monthTitles: true, legend: false
  },
  rowCurrent: {
    title: 'Current', series: [currentG, currentY, currentR, currentP],
    xMin: -81.6, xMax: 40.0, xTicks: currentXTicks, xLabels: currentXLabels,
    yMax: 0.063, yTicks: currentYTicks, yLabels: currentYLabels, yWhite: null,
    pad: { top: 2.7, bottom: 43.7 }, monthTitles: false, legend: false
  },
  rowPower: {
    title: 'Active Power', series: [powerG, powerY, powerR, powerP],
    xMin: -150, xMax: 39.3, xTicks: powerXTicks, xLabels: powerXLabels,
    yMax: 0.0602, yTicks: powerYTicks, yLabels: powerYLabels, yWhite: 0.03,
    pad: { top: 2.7, bottom: 70.3 }, monthTitles: false, legend: true
  }
};

// Panel background, panel frames, rotated x tick labels, month titles, legend
const panelPlugin = {
  id: 'panels',
  beforeDraw(chart) {
    const a = chart.chartArea, ctx = chart.ctx;
    ctx.save();
    ctx.fillStyle = BG;
    ctx.fillRect(a.left, a.top, a.right - a.left, a.bottom - a.top);
    ctx.restore();
  },
  beforeDatasetsDraw(chart) {
    const a = chart.chartArea, ctx = chart.ctx;
    ctx.save();
    ctx.strokeStyle = OUTER;
    ctx.lineWidth = 2;
    ctx.strokeRect(a.left, a.top, a.right - a.left, a.bottom - a.top);
    ctx.strokeStyle = EDGE;
    ctx.lineWidth = 2.6;
    for (let k = 1; k < months.length; k++) {
      const x = chart.scales['x' + k].left;
      ctx.beginPath(); ctx.moveTo(x, a.top); ctx.lineTo(x, a.bottom); ctx.stroke();
    }
    ctx.restore();
  },
  afterDraw(chart) {
    const row = rows[chart.canvas.id];
    const a = chart.chartArea, ctx = chart.ctx;
    ctx.save();
    ctx.fillStyle = TEXT;
    ctx.font = '12px ' + FONT;
    ctx.textAlign = 'left';
    ctx.textBaseline = 'middle';
    for (let k = 0; k < months.length; k++) {
      const s = chart.scales['x' + k];
      s.ticks.forEach(t => {
        const px = s.getPixelForValue(t.value);
        ctx.save();
        ctx.translate(px, a.bottom + 9);
        ctx.rotate(LABEL_ANGLE);
        ctx.fillText(row.xLabels[row.xTicks.indexOf(t.value)], 0, 0);
        ctx.restore();
      });
    }
    if (row.monthTitles) {
      ctx.font = '18px ' + FONT;
      ctx.textAlign = 'center';
      for (let k = 0; k < months.length; k++) {
        const s = chart.scales['x' + k];
        ctx.fillText(months[k], (s.left + s.right) / 2, 19.5);
      }
    }
    if (row.legend) {
      const ly = 231.5;
      const starts = [68, 195, 322, 446];
      ctx.font = '15px ' + FONT;
      ctx.textAlign = 'left';
      ctx.lineWidth = 2;
      seriesNames.forEach((name, i) => {
        ctx.strokeStyle = COLORS[i];
        ctx.beginPath(); ctx.moveTo(starts[i], ly); ctx.lineTo(starts[i] + 27, ly); ctx.stroke();
        ctx.fillStyle = TEXT;
        ctx.fillText(name, starts[i] + 32, ly);
      });
      ctx.font = '18px ' + FONT;
      ctx.textAlign = 'center';
      ctx.fillText('\u0394(%)', (a.left + a.right) / 2, 227);
    }
    ctx.restore();
  }
};

function buildRow(id) {
  const row = rows[id];
  const datasets = [];
  const scales = {};
  months.forEach((m, k) => {
    row.series.forEach((series, si) => {
      datasets.push({
        label: seriesNames[si] + ' ' + m,
        data: series[k].map(p => ({ x: p[0], y: p[1] })),
        xAxisID: 'x' + k,
        yAxisID: 'y',
        borderColor: COLORS[si],
        borderWidth: 2,
        pointRadius: 0,
        fill: false,
        cubicInterpolationMode: 'monotone',
        order: 3 - si
      });
    });
    scales['x' + k] = {
      type: 'linear', axis: 'x', position: 'bottom', stack: 'months', stackWeight: 1,
      min: row.xMin, max: row.xMax,
      afterBuildTicks: s => { s.ticks = row.xTicks.map(v => ({ value: v })); },
      ticks: { display: false },
      grid: {
        color: c => (c.tick && c.tick.value === 0) ? '#ffffff' : GRID,
        lineWidth: 2, drawTicks: false
      },
      border: { display: false }
    };
  });
  scales.y = {
    type: 'linear', axis: 'y', position: 'left', min: 0, max: row.yMax,
    afterBuildTicks: s => { s.ticks = row.yTicks.map(v => ({ value: v })); },
    afterFit: s => { s.width = Y_AXIS_WIDTH; },
    ticks: {
      font: { family: FONT, size: 12 }, color: TEXT, padding: 3,
      callback: (v, i) => row.yLabels[i]
    },
    grid: {
      color: c => (c.tick && row.yWhite !== null && Math.abs(c.tick.value - row.yWhite) < 1e-9) ? '#ffffff' : GRID,
      lineWidth: 2, drawTicks: false
    },
    border: { display: false },
    title: {
      display: true, text: row.title, color: TEXT,
      font: { family: FONT, size: 13 }, padding: { top: 17, bottom: 0 }
    }
  };
  new Chart(document.getElementById(id), {
    type: 'line',
    data: { datasets },
    options: {
      responsive: false,
      animation: false,
      events: [],
      layout: { padding: { left: 0, right: RIGHT_PAD, top: row.pad.top, bottom: row.pad.bottom } },
      plugins: { legend: { display: false }, tooltip: { enabled: false } },
      scales
    },
    plugins: [panelPlugin]
  });
}

Object.keys(rows).forEach(buildRow);
</script>
</body>
</html>
